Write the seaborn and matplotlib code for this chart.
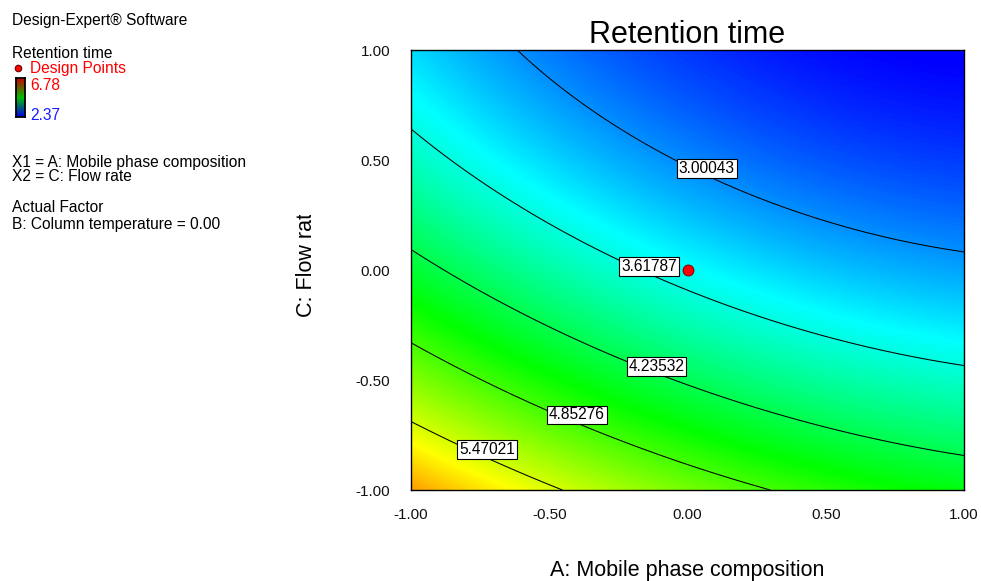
import numpy as np
import matplotlib
matplotlib.use("Agg")
import matplotlib.pyplot as plt
import seaborn as sns
from matplotlib.colors import LinearSegmentedColormap
from matplotlib.transforms import Bbox, TransformedBbox

sns.set_style("white")
plt.rcParams["font.family"] = ["Liberation Sans", "DejaVu Sans"]
plt.rcParams["text.color"] = "black"

# Quadratic model for retention time in coded factors A and C (B held at 0):
# terms: intercept, A, C, AC, A^2, C^2
model_terms = ["1", "A", "C", "AC", "A2", "C2"]
model_coefs = [3.5025, -0.6369, -1.2259, 0.1506, 0.2211, 0.3404]

# Contour levels shown on the plot
contour_levels = [3.00043, 3.61787, 4.23532, 4.85276, 5.47021]

# Observed response range (colour scale)
resp_min, resp_max = 2.37, 6.78

# Design point (centre point)
design_A = [0.00]
design_C = [0.00]

ticks = [-1.00, -0.50, 0.00, 0.50, 1.00]
tick_labels = ["-1.00", "-0.50", "0.00", "0.50", "1.00"]

# Grid of coded factor settings
g = np.linspace(-1, 1, 121)
A, C = np.meshgrid(g, g)
basis = {"1": np.ones_like(A), "A": A, "C": C, "AC": A * C, "A2": A * A, "C2": C * C}
Z = sum(b * basis[t] for t, b in zip(model_terms, model_coefs))

cmap = LinearSegmentedColormap.from_list(
    "de", ["#0000ff", "#00ffff", "#00ff00", "#ffff00", "#ff0000"])
key_cmap = LinearSegmentedColormap.from_list(
    "key", ["#0000ee", "#00c000", "#cc0000"])

W, H = 981, 581
fig = plt.figure(figsize=(W / 100, H / 100), dpi=100)


def fx(px):
    return px / W


def fy(py):
    return 1 - py / H


ax = fig.add_axes([fx(411), fy(490), fx(553), 440 / H])
ax.imshow(Z, extent=[-1, 1, -1, 1], origin="lower", cmap=cmap,
          vmin=resp_min, vmax=resp_max, aspect="auto", interpolation="bilinear")
ax.contour(A, C, Z, levels=contour_levels, colors="black", linewidths=0.75)

# Contour labels in white boxes
label_pos = [(0.070, 0.461), (-0.139, 0.016), (-0.112, -0.439),
             (-0.400, -0.659), (-0.725, -0.816)]
for lv, (xa, yc) in zip(contour_levels, label_pos):
    ax.text(xa, yc, f"{lv:.5f}", ha="center", va="center", fontsize=11.2,
            color="black", zorder=4,
            bbox=dict(boxstyle="square,pad=0.12", fc="white", ec="black", lw=0.8))

sns.scatterplot(x=design_A, y=design_C, ax=ax, s=60, color="#ff0000",
                edgecolor="#8b0000", linewidth=0.8, zorder=6, legend=False)

ax.set_xlim(-1, 1)
ax.set_ylim(-1, 1)
ax.set_xticks(ticks)
ax.set_xticklabels(tick_labels)
ax.set_yticks(ticks)
ax.set_yticklabels(tick_labels)
ax.set_xlabel("")
ax.set_ylabel("")
ax.tick_params(axis="x", direction="out", length=9, width=0.9, pad=4,
               labelsize=11, colors="#555555", labelcolor="#111111")
ax.tick_params(axis="y", direction="out", length=11, width=0.9, pad=4,
               labelsize=11, colors="#555555", labelcolor="#111111")
for s in ax.spines.values():
    s.set_color("black")
    s.set_linewidth(1.0)
ax.set_title("Retention time", fontsize=22, pad=5, color="black")

fig.text(fx(687), fy(576), "A: Mobile phase composition", ha="center",
         va="baseline", fontsize=15.5)
ylab = fig.text(fx(307), fy(317), "C: Flow rate", rotation=90, ha="center",
                va="bottom", fontsize=15.5)
ylab.set_clip_box(TransformedBbox(Bbox([[0.0, 0.0], [fx(400), fy(215)]]),
                                  fig.transFigure))
ylab.set_clip_on(True)

# Side panel
fs = 11.2
fig.text(fx(12), fy(21), "Design-Expert\u00ae Software", fontsize=fs, va="center")
fig.text(fx(12), fy(53), "Retention time", fontsize=fs, va="center")
fig.text(fx(30), fy(69), "Design Points", fontsize=fs, va="center", color="red")
fig.text(fx(30), fy(85), f"{resp_max:.2f}", fontsize=fs, va="center", color="red")
fig.text(fx(30), fy(116), f"{resp_min:.2f}", fontsize=fs, va="center", color="#1a1aff")
fig.text(fx(12), fy(162), "X1 = A: Mobile phase composition", fontsize=fs, va="center")
fig.text(fx(12), fy(177), "X2 = C: Flow rate", fontsize=fs, va="center")
fig.text(fx(12), fy(208), "Actual Factor", fontsize=fs, va="center")
fig.text(fx(12), fy(224), "B: Column temperature = 0.00", fontsize=fs, va="center")

# Small legend marker and colour key
mk = fig.add_axes([fx(13), fy(73), fx(10), 10 / H])
mk.scatter([0], [0], s=22, color="#ff0000", edgecolor="#6b0000", linewidth=0.8)
mk.set_xlim(-1, 1)
mk.set_ylim(-1, 1)
mk.axis("off")

cb = fig.add_axes([fx(16), fy(117), fx(9), 39 / H])
grad = np.linspace(resp_min, resp_max, 64).reshape(-1, 1)
cb.imshow(grad, origin="lower", cmap=key_cmap, vmin=resp_min, vmax=resp_max,
          aspect="auto")
cb.set_xticks([])
cb.set_yticks([])
for s in cb.spines.values():
    s.set_color("black")
    s.set_linewidth(1.3)

fig.savefig("out.png", dpi=100)
